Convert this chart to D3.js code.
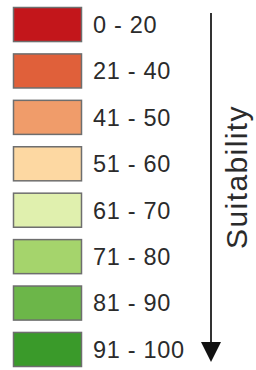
<!DOCTYPE html>
<html>
<head>
<meta charset="utf-8">
<script src="https://cdn.jsdelivr.net/npm/d3@7"></script>
<style>
  body { margin: 0; background: #fff; }
  text { font-family: "Liberation Sans", Arial, sans-serif; fill: #2b2b2b; }
</style>
</head>
<body>
<div id="legend"></div>
<script>
var classes = ['0 - 20', '21 - 40', '41 - 50', '51 - 60', '61 - 70', '71 - 80', '81 - 90', '91 - 100'];
var colors = ['#c3161b', '#e0603a', '#f09c6a', '#fdd8a2', '#e0f0ae', '#a5d46c', '#6cb649', '#3a9a2a'];
var axisTitle = 'Suitability';

var width = 256, height = 370;

var svg = d3.select('#legend').append('svg')
            .attr('width', width)
            .attr('height', height);

var y = d3.scaleBand()
          .domain(classes)
          .range([7, 367])
          .paddingInner(0.245)
          .paddingOuter(0);

var fill = d3.scaleOrdinal().domain(classes).range(colors);

var rows = svg.selectAll('g.row')
              .data(classes).enter()
                .append('g')
                .attr('class', 'row')
                .attr('transform', function(d) { return 'translate(0,' + y(d) + ')'; });

rows.append('rect')
    .attr('x', 13.5)
    .attr('y', 0.5)
    .attr('width', 68)
    .attr('height', y.bandwidth() - 1)
    .attr('fill', function(d) { return fill(d); })
    .attr('stroke', '#6e6e6e')
    .attr('stroke-width', 1.5);

rows.append('text')
    .attr('x', 93)
    .attr('y', y.bandwidth() / 2)
    .attr('dy', '0.36em')
    .attr('font-size', 23.5)
    .attr('letter-spacing', 0.7)
    .text(function(d) { return d; });

// arrow down the right side
svg.append('line')
   .attr('x1', 211).attr('x2', 211)
   .attr('y1', 13).attr('y2', 344)
   .attr('stroke', '#333')
   .attr('stroke-width', 2);

svg.append('path')
   .attr('d', 'M201,342 L221,342 L211,362 Z')
   .attr('fill', '#111');

svg.append('text')
   .attr('transform', 'translate(247,177) rotate(-90)')
   .attr('text-anchor', 'middle')
   .attr('font-size', 30)
   .attr('letter-spacing', 1.4)
   .text(axisTitle);
</script>
</body>
</html>
